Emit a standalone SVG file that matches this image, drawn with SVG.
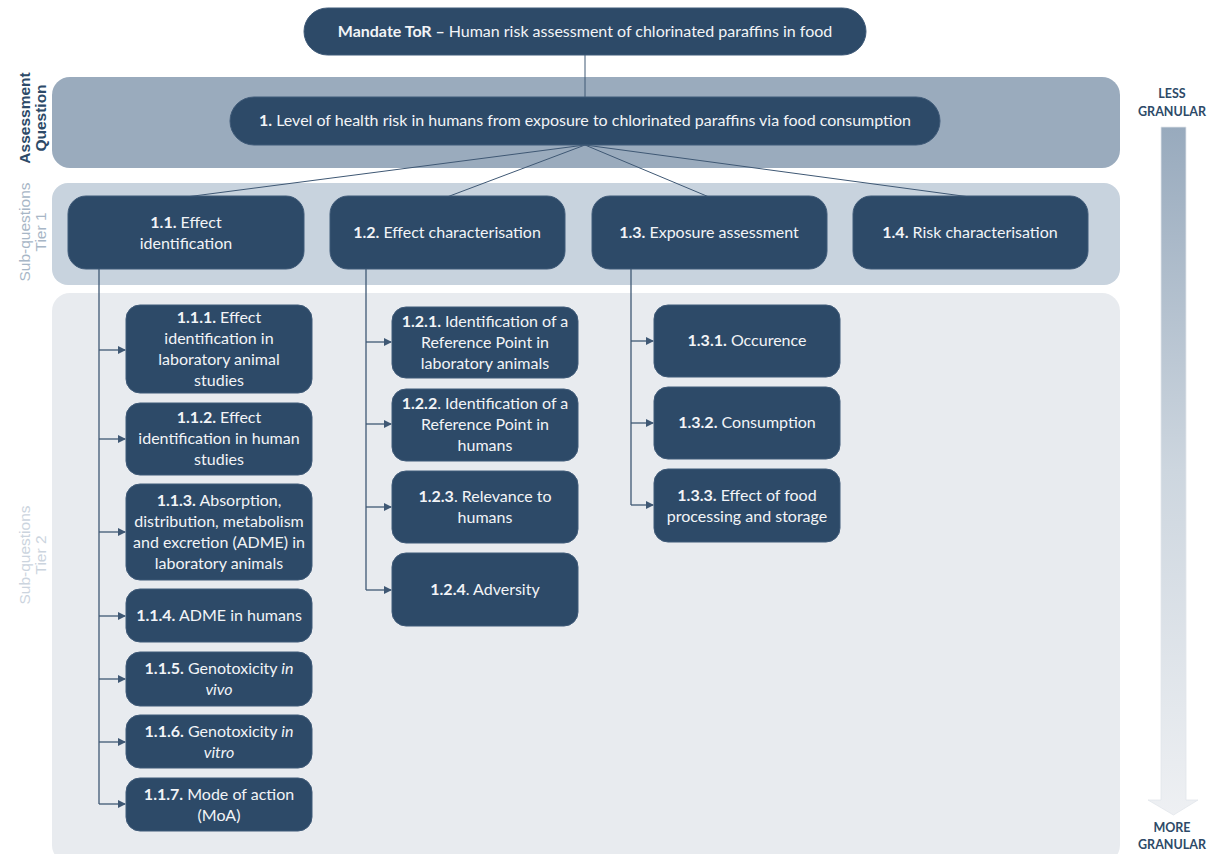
<svg xmlns="http://www.w3.org/2000/svg" width="1215" height="854" viewBox="0 0 1215 854">
<style>
.node{fill:#2d4a68;stroke:#3f5a78;stroke-width:1}
.t{font-family:Lato,"Open Sans","Liberation Sans",sans-serif;font-size:16px;fill:#f2f4f7;text-anchor:middle}
.b{font-weight:bold}
.i{font-style:italic}
.side{font-family:"Liberation Sans",Arial,sans-serif;font-size:15.5px;text-anchor:middle}
.gran{font-family:Lato,"Open Sans","Liberation Sans",sans-serif;font-size:12.5px;font-weight:bold;fill:#2d4a68;text-anchor:middle}
.conn{stroke:#3f5874;stroke-width:1.3;fill:none}
.thin{stroke:#3f5874;stroke-width:1;fill:none}
</style>
<defs>
<marker id="ah" markerWidth="8" markerHeight="8" refX="7" refY="4" orient="auto" markerUnits="userSpaceOnUse">
<path d="M0,0 L8,4 L0,8 Z" fill="#3f5874"/>
</marker>
<linearGradient id="ag" x1="0" y1="0" x2="0" y2="1">
<stop offset="0" stop-color="#98aabd"/>
<stop offset="0.5" stop-color="#cdd6df"/>
<stop offset="1" stop-color="#eef0f3"/>
</linearGradient>
</defs>
<rect width="1215" height="854" fill="#ffffff"/>

<!-- bands -->
<rect id="band-assessment" x="52" y="77" width="1068" height="91" rx="18" fill="#9aabbd"/>
<rect id="band-tier1" x="52" y="183" width="1068" height="102" rx="16" fill="#c8d3de"/>
<rect id="band-tier2" x="52" y="293" width="1068" height="570" rx="18" fill="#e8ebef"/>

<!-- side labels -->
<g id="label-assessment">
<text class="side" font-weight="bold" fill="#2d4a68" transform="translate(30,118) rotate(-90)">Assessment</text>
<text class="side" font-weight="bold" fill="#2d4a68" transform="translate(46,118) rotate(-90)">Question</text>
</g>
<g id="label-tier1">
<text class="side" fill="#a7b6c6" transform="translate(30,232) rotate(-90)">Sub-questions</text>
<text class="side" fill="#a7b6c6" transform="translate(46,232) rotate(-90)">Tier 1</text>
</g>
<g id="label-tier2">
<text class="side" fill="#cbd4de" transform="translate(30,555) rotate(-90)">Sub-questions</text>
<text class="side" fill="#cbd4de" transform="translate(46,555) rotate(-90)">Tier 2</text>
</g>

<!-- granularity arrow -->
<g id="granularity">
<text class="gran" x="1172" y="98">LESS</text>
<text class="gran" x="1172" y="116">GRANULAR</text>
<path d="M1161,127 L1186,127 L1186,800 L1198,800 L1173.5,815 L1148,800 L1161,800 Z" fill="url(#ag)" stroke="#e2e6eb" stroke-width="0.8"/>
<text class="gran" x="1172" y="832">MORE</text>
<text class="gran" x="1172" y="849">GRANULAR</text>
</g>

<!-- connectors -->
<g id="connectors">
<line class="thin" x1="585" y1="55" x2="585" y2="97"/>
<line class="thin" x1="585" y1="145" x2="186" y2="197"/>
<line class="thin" x1="585" y1="145" x2="447" y2="197"/>
<line class="thin" x1="585" y1="145" x2="709" y2="197"/>
<line class="thin" x1="585" y1="145" x2="970" y2="197"/>
<path class="conn" d="M99,269 V804"/>
<path class="conn" d="M99,350 H125" marker-end="url(#ah)"/>
<path class="conn" d="M99,439 H125" marker-end="url(#ah)"/>
<path class="conn" d="M99,532 H125" marker-end="url(#ah)"/>
<path class="conn" d="M99,616 H125" marker-end="url(#ah)"/>
<path class="conn" d="M99,679 H125" marker-end="url(#ah)"/>
<path class="conn" d="M99,742 H125" marker-end="url(#ah)"/>
<path class="conn" d="M99,804 H125" marker-end="url(#ah)"/>
<path class="conn" d="M366,269 V590"/>
<path class="conn" d="M366,342 H391" marker-end="url(#ah)"/>
<path class="conn" d="M366,424 H391" marker-end="url(#ah)"/>
<path class="conn" d="M366,507 H391" marker-end="url(#ah)"/>
<path class="conn" d="M366,590 H391" marker-end="url(#ah)"/>
<path class="conn" d="M631,269 V505"/>
<path class="conn" d="M631,341 H653" marker-end="url(#ah)"/>
<path class="conn" d="M631,423 H653" marker-end="url(#ah)"/>
<path class="conn" d="M631,505 H653" marker-end="url(#ah)"/>
</g>

<!-- top nodes -->
<g id="mandate">
<rect class="node" x="304" y="8" width="562" height="47" rx="23.5"/>
<text class="t" x="585" y="37"><tspan class="b">Mandate ToR – </tspan>Human risk assessment of chlorinated paraffins in food</text>
</g>
<g id="q1">
<rect class="node" x="230" y="97" width="710" height="48" rx="24"/>
<text class="t" x="585" y="126"><tspan class="b">1.</tspan> Level of health risk in humans from exposure to chlorinated paraffins via food consumption</text>
</g>

<!-- tier 1 -->
<g id="q1-1">
<rect class="node" x="68" y="196" width="236" height="73" rx="18"/>
<text class="t" x="186" y="228"><tspan class="b">1.1.</tspan> Effect</text>
<text class="t" x="186" y="249">identification</text>
</g>
<g id="q1-2">
<rect class="node" x="330" y="196" width="235" height="73" rx="18"/>
<text class="t" x="447" y="238"><tspan class="b">1.2.</tspan>  Effect characterisation</text>
</g>
<g id="q1-3">
<rect class="node" x="592" y="196" width="235" height="73" rx="18"/>
<text class="t" x="709" y="238"><tspan class="b">1.3.</tspan> Exposure assessment</text>
</g>
<g id="q1-4">
<rect class="node" x="853" y="196" width="235" height="73" rx="18"/>
<text class="t" x="970" y="238"><tspan class="b">1.4.</tspan> Risk characterisation</text>
</g>

<!-- tier 2 column 1 -->
<g id="q1-1-1">
<rect class="node" x="126" y="305" width="186" height="88" rx="14"/>
<text class="t" x="219" y="323"><tspan class="b">1.1.1.</tspan> Effect</text>
<text class="t" x="219" y="344">identification in</text>
<text class="t" x="219" y="365">laboratory animal</text>
<text class="t" x="219" y="386">studies</text>
</g>
<g id="q1-1-2">
<rect class="node" x="126" y="403" width="186" height="72" rx="14"/>
<text class="t" x="219" y="423"><tspan class="b">1.1.2.</tspan> Effect</text>
<text class="t" x="219" y="444">identification in human</text>
<text class="t" x="219" y="465">studies</text>
</g>
<g id="q1-1-3">
<rect class="node" x="126" y="484" width="186" height="96" rx="14"/>
<text class="t" x="219" y="506"><tspan class="b">1.1.3.</tspan> Absorption,</text>
<text class="t" x="219" y="527">distribution, metabolism</text>
<text class="t" x="219" y="548">and excretion (ADME) in</text>
<text class="t" x="219" y="569">laboratory animals</text>
</g>
<g id="q1-1-4">
<rect class="node" x="126" y="589" width="186" height="53" rx="14"/>
<text class="t" x="219" y="621"><tspan class="b">1.1.4.</tspan> ADME in humans</text>
</g>
<g id="q1-1-5">
<rect class="node" x="126" y="652" width="186" height="54" rx="14"/>
<text class="t" x="219" y="674"><tspan class="b">1.1.5.</tspan> Genotoxicity <tspan class="i">in</tspan></text>
<text class="t i" x="219" y="695">vivo</text>
</g>
<g id="q1-1-6">
<rect class="node" x="126" y="715" width="186" height="53" rx="14"/>
<text class="t" x="219" y="737"><tspan class="b">1.1.6.</tspan> Genotoxicity <tspan class="i">in</tspan></text>
<text class="t i" x="219" y="758">vitro</text>
</g>
<g id="q1-1-7">
<rect class="node" x="126" y="778" width="186" height="53" rx="14"/>
<text class="t" x="219" y="800"><tspan class="b">1.1.7.</tspan> Mode of action</text>
<text class="t" x="219" y="821">(MoA)</text>
</g>

<!-- tier 2 column 2 -->
<g id="q1-2-1">
<rect class="node" x="392" y="307" width="186" height="71" rx="14"/>
<text class="t" x="485" y="327"><tspan class="b">1.2.1.</tspan> Identification of a</text>
<text class="t" x="485" y="348">Reference Point in</text>
<text class="t" x="485" y="369">laboratory animals</text>
</g>
<g id="q1-2-2">
<rect class="node" x="392" y="389" width="186" height="72" rx="14"/>
<text class="t" x="485" y="409"><tspan class="b">1.2.2</tspan>. Identification of a</text>
<text class="t" x="485" y="430">Reference Point in</text>
<text class="t" x="485" y="451">humans</text>
</g>
<g id="q1-2-3">
<rect class="node" x="392" y="471" width="186" height="72" rx="14"/>
<text class="t" x="485" y="502"><tspan class="b">1.2.3</tspan>. Relevance to</text>
<text class="t" x="485" y="523">humans</text>
</g>
<g id="q1-2-4">
<rect class="node" x="392" y="553" width="186" height="73" rx="14"/>
<text class="t" x="485" y="595"><tspan class="b">1.2.4</tspan>. Adversity</text>
</g>

<!-- tier 2 column 3 -->
<g id="q1-3-1">
<rect class="node" x="654" y="305" width="186" height="72" rx="14"/>
<text class="t" x="747" y="346"><tspan class="b">1.3.1.</tspan> Occurence</text>
</g>
<g id="q1-3-2">
<rect class="node" x="654" y="387" width="186" height="72" rx="14"/>
<text class="t" x="747" y="428"><tspan class="b">1.3.2.</tspan> Consumption</text>
</g>
<g id="q1-3-3">
<rect class="node" x="654" y="469" width="186" height="73" rx="14"/>
<text class="t" x="747" y="501"><tspan class="b">1.3.3.</tspan> Effect of food</text>
<text class="t" x="747" y="522">processing and storage</text>
</g>
</svg>
